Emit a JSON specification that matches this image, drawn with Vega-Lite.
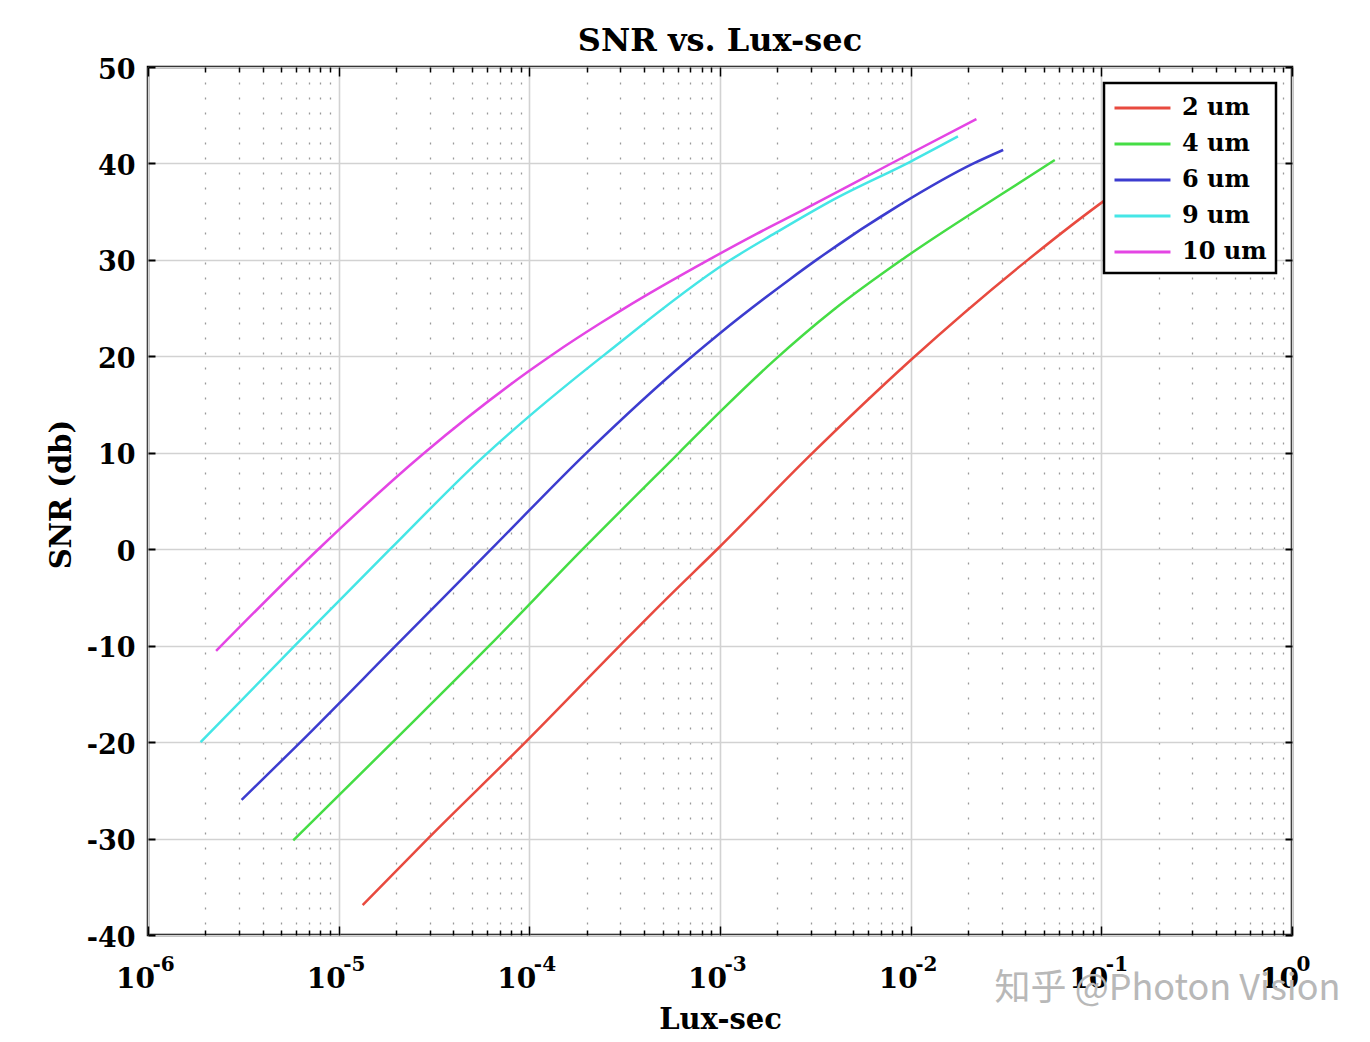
{
  "$schema": "https://vega.github.io/schema/vega-lite/v6.json",
  "width": 1144,
  "height": 868,
  "autosize": {"type": "none"},
  "padding": {"left": 148, "top": 67, "right": 78, "bottom": 107},
  "background": "white",
  "title": {
    "text": "SNR vs. Lux-sec",
    "font": "DejaVu Serif",
    "fontSize": 32,
    "fontWeight": "bold",
    "color": "black",
    "anchor": "middle",
    "frame": "group",
    "baseline": "alphabetic",
    "offset": 16,
    "dy": 43
  },
  "config": {
    "view": {"stroke": "black", "strokeWidth": 2.5},
    "axis": {
      "labelFont": "DejaVu Serif",
      "labelFontWeight": "bold",
      "labelColor": "black",
      "titleFont": "DejaVu Serif",
      "titleFontWeight": "bold",
      "titleColor": "black",
      "domain": false
    },
    "legend": {"strokeWidth": 2.5}
  },
  "data": {
    "values": [
      {"pixel": "2 um", "lux": 0.00001337, "snr": -36.9},
      {"pixel": "2 um", "lux": 0.00002938, "snr": -30},
      {"pixel": "2 um", "lux": 0.0000955, "snr": -20},
      {"pixel": "2 um", "lux": 0.0002985, "snr": -10},
      {"pixel": "2 um", "lux": 0.000514, "snr": -5.3},
      {"pixel": "2 um", "lux": 0.000979, "snr": 0.1},
      {"pixel": "2 um", "lux": 0.002958, "snr": 9.7},
      {"pixel": "2 um", "lux": 0.01012, "snr": 19.7},
      {"pixel": "2 um", "lux": 0.04055, "snr": 29.9},
      {"pixel": "2 um", "lux": 0.1064, "snr": 36.3},
      {"pixel": "2 um", "lux": 0.141, "snr": 38.0},

      {"pixel": "4 um", "lux": 0.00000578, "snr": -30.2},
      {"pixel": "4 um", "lux": 0.00001919, "snr": -20},
      {"pixel": "4 um", "lux": 0.00006166, "snr": -10},
      {"pixel": "4 um", "lux": 0.0001905, "snr": 0},
      {"pixel": "4 um", "lux": 0.0006095, "snr": 10},
      {"pixel": "4 um", "lux": 0.001, "snr": 14.24},
      {"pixel": "4 um", "lux": 0.001905, "snr": 19.5},
      {"pixel": "4 um", "lux": 0.00393, "snr": 24.8},
      {"pixel": "4 um", "lux": 0.00912, "snr": 30.1},
      {"pixel": "4 um", "lux": 0.02938, "snr": 36.7},
      {"pixel": "4 um", "lux": 0.057, "snr": 40.35},

      {"pixel": "6 um", "lux": 0.000003097, "snr": -26},
      {"pixel": "6 um", "lux": 0.00000631, "snr": -20},
      {"pixel": "6 um", "lux": 0.00001995, "snr": -10},
      {"pixel": "6 um", "lux": 0.0000631, "snr": 0},
      {"pixel": "6 um", "lux": 0.0001995, "snr": 10},
      {"pixel": "6 um", "lux": 0.000676, "snr": 19.6},
      {"pixel": "6 um", "lux": 0.001, "snr": 22.4},
      {"pixel": "6 um", "lux": 0.002328, "snr": 28.0},
      {"pixel": "6 um", "lux": 0.003206, "snr": 30},
      {"pixel": "6 um", "lux": 0.00877, "snr": 35.7},
      {"pixel": "6 um", "lux": 0.02138, "snr": 40.0},
      {"pixel": "6 um", "lux": 0.03055, "snr": 41.4},

      {"pixel": "9 um", "lux": 0.000001888, "snr": -20},
      {"pixel": "9 um", "lux": 0.00000589, "snr": -10},
      {"pixel": "9 um", "lux": 0.00001862, "snr": 0},
      {"pixel": "9 um", "lux": 0.00005754, "snr": 9.6},
      {"pixel": "9 um", "lux": 0.0001, "snr": 13.8},
      {"pixel": "9 um", "lux": 0.0001633, "snr": 17.3},
      {"pixel": "9 um", "lux": 0.0002455, "snr": 20.1},
      {"pixel": "9 um", "lux": 0.001096, "snr": 29.8},
      {"pixel": "9 um", "lux": 0.001995, "snr": 32.9},
      {"pixel": "9 um", "lux": 0.003981, "snr": 36.3},
      {"pixel": "9 um", "lux": 0.01, "snr": 40.2},
      {"pixel": "9 um", "lux": 0.0177, "snr": 42.8},

      {"pixel": "10 um", "lux": 0.000002275, "snr": -10.55},
      {"pixel": "10 um", "lux": 0.00000782, "snr": 0},
      {"pixel": "10 um", "lux": 0.0000278, "snr": 9.9},
      {"pixel": "10 um", "lux": 0.0001, "snr": 18.5},
      {"pixel": "10 um", "lux": 0.0001349, "snr": 20.3},
      {"pixel": "10 um", "lux": 0.0002344, "snr": 23.4},
      {"pixel": "10 um", "lux": 0.0003105, "snr": 24.9},
      {"pixel": "10 um", "lux": 0.000871, "snr": 30},
      {"pixel": "10 um", "lux": 0.001556, "snr": 32.7},
      {"pixel": "10 um", "lux": 0.002624, "snr": 35.0},
      {"pixel": "10 um", "lux": 0.00809, "snr": 40.1},
      {"pixel": "10 um", "lux": 0.02213, "snr": 44.6}
    ]
  },
  "layer": [
    {
      "mark": {"type": "line", "strokeWidth": 2.5, "interpolate": "monotone"},
      "encoding": {
        "x": {
          "field": "lux",
          "type": "quantitative",
          "scale": {"type": "log", "domain": [0.000001, 1], "nice": false},
          "axis": {
            "values": [0.000001, 0.000002, 0.000003, 0.000004, 0.000005, 0.000006, 0.000007, 0.000008, 0.000009,
                       0.00001, 0.00002, 0.00003, 0.00004, 0.00005, 0.00006, 0.00007, 0.00008, 0.00009,
                       0.0001, 0.0002, 0.0003, 0.0004, 0.0005, 0.0006, 0.0007, 0.0008, 0.0009,
                       0.001, 0.002, 0.003, 0.004, 0.005, 0.006, 0.007, 0.008, 0.009,
                       0.01, 0.02, 0.03, 0.04, 0.05, 0.06, 0.07, 0.08, 0.09,
                       0.1, 0.2, 0.3, 0.4, 0.5, 0.6, 0.7, 0.8, 0.9, 1],
            "labelExpr": "abs(log(datum.value)/LN10-round(log(datum.value)/LN10))<0.001 ? '10' : ''",
            "labelFontSize": 28,
            "labelOffset": -13,
            "labelBaseline": "alphabetic",
            "labelPadding": 52,
            "labelOverlap": false,
            "labelBound": false,
            "labelFlush": false,
            "ticks": false,
            "tickSize": 0,
            "grid": true,
            "gridColor": {"condition": {"test": "abs(log(datum.value)/LN10-round(log(datum.value)/LN10))<0.001", "value": "#d2d2d2"}, "value": "#9a9a9a"},
            "gridDash": {"condition": {"test": "abs(log(datum.value)/LN10-round(log(datum.value)/LN10))<0.001", "value": []}, "value": [2, 13]},
            "gridWidth": {"condition": {"test": "abs(log(datum.value)/LN10-round(log(datum.value)/LN10))<0.001", "value": 1.6}, "value": 1.3},
            "title": "Lux-sec",
            "titleFontSize": 29,
            "titleX": 572,
            "titleY": 93,
            "titleAlign": "center",
            "titleBaseline": "alphabetic"
          }
        },
        "y": {
          "field": "snr",
          "type": "quantitative",
          "scale": {"domain": [-40, 50], "nice": false, "zero": false},
          "axis": {
            "values": [-40, -30, -20, -10, 0, 10, 20, 30, 40, 50],
            "labelExpr": "'' + datum.value",
            "labelFontSize": 27,
            "labelPadding": 13,
            "labelOffset": 3,
            "ticks": false,
            "tickSize": 0,
            "grid": true,
            "gridColor": "#d2d2d2",
            "gridWidth": 1.6,
            "title": "SNR (db)",
            "titleFontSize": 29,
            "titleX": -78,
            "titleY": 427,
            "titleAlign": "center",
            "titleBaseline": "alphabetic"
          }
        },
        "color": {
          "field": "pixel",
          "type": "nominal",
          "scale": {
            "domain": ["2 um", "4 um", "6 um", "9 um", "10 um"],
            "range": ["#e84a3f", "#45dd45", "#3c3ccf", "#45e6e6", "#e445e4"]
          },
          "legend": {
            "title": null,
            "orient": "top-right",
            "offset": 16,
            "symbolType": "M-1,0H2.86",
            "symbolSize": 841,
            "symbolStrokeWidth": 3,
            "labelFont": "DejaVu Serif",
            "labelFontWeight": "bold",
            "labelFontSize": 24,
            "labelColor": "black",
            "labelOffset": 37,
            "padding": 9,
            "rowPadding": 8,
            "fillColor": "white",
            "strokeColor": "black"
          }
        }
      }
    },
    {
      "mark": {"type": "line", "strokeOpacity": 0},
      "encoding": {
        "x": {
          "field": "lux",
          "type": "quantitative",
          "scale": {"type": "log", "domain": [0.000001, 1], "nice": false},
          "axis": {
            "orient": "bottom",
            "values": [0.000001, 0.00001, 0.0001, 0.001, 0.01, 0.1, 1],
            "labelExpr": "'' + round(log(datum.value)/LN10)",
            "labelFontSize": 20,
            "labelAlign": "left",
            "labelOffset": 4,
            "labelBaseline": "alphabetic",
            "labelPadding": 35,
            "labelOverlap": false,
            "labelBound": false,
            "labelFlush": false,
            "ticks": false,
            "tickSize": 0,
            "grid": false,
            "title": null
          }
        },
        "y": {
          "field": "snr",
          "type": "quantitative",
          "scale": {"domain": [-40, 50], "nice": false, "zero": false},
          "axis": {
            "orient": "right",
            "values": [-40, -30, -20, -10, 0, 10, 20, 30, 40, 50],
            "labels": false,
            "ticks": true,
            "tickSize": -7,
            "tickColor": "black",
            "tickWidth": 2,
            "grid": false,
            "title": null
          }
        }
      }
    },
    {
      "mark": {"type": "line", "strokeOpacity": 0},
      "encoding": {
        "x": {
          "field": "lux",
          "type": "quantitative",
          "scale": {"type": "log", "domain": [0.000001, 1], "nice": false},
          "axis": {
            "orient": "top",
            "values": [0.000001, 0.000002, 0.000003, 0.000004, 0.000005, 0.000006, 0.000007, 0.000008, 0.000009,
                       0.00001, 0.00002, 0.00003, 0.00004, 0.00005, 0.00006, 0.00007, 0.00008, 0.00009,
                       0.0001, 0.0002, 0.0003, 0.0004, 0.0005, 0.0006, 0.0007, 0.0008, 0.0009,
                       0.001, 0.002, 0.003, 0.004, 0.005, 0.006, 0.007, 0.008, 0.009,
                       0.01, 0.02, 0.03, 0.04, 0.05, 0.06, 0.07, 0.08, 0.09,
                       0.1, 0.2, 0.3, 0.4, 0.5, 0.6, 0.7, 0.8, 0.9, 1],
            "labels": false,
            "ticks": true,
            "tickSize": {"condition": {"test": "abs(log(datum.value)/LN10-round(log(datum.value)/LN10))<0.001", "value": -9}, "value": -5},
            "tickColor": "black",
            "tickWidth": 1.5,
            "grid": false,
            "title": null
          }
        },
        "y": {
          "field": "snr",
          "type": "quantitative",
          "scale": {"domain": [-40, 50], "nice": false, "zero": false},
          "axis": null
        }
      }
    },
    {
      "mark": {"type": "line", "strokeOpacity": 0},
      "encoding": {
        "x": {
          "field": "lux",
          "type": "quantitative",
          "scale": {"type": "log", "domain": [0.000001, 1], "nice": false},
          "axis": {
            "orient": "bottom",
            "values": [0.000001, 0.000002, 0.000003, 0.000004, 0.000005, 0.000006, 0.000007, 0.000008, 0.000009,
                       0.00001, 0.00002, 0.00003, 0.00004, 0.00005, 0.00006, 0.00007, 0.00008, 0.00009,
                       0.0001, 0.0002, 0.0003, 0.0004, 0.0005, 0.0006, 0.0007, 0.0008, 0.0009,
                       0.001, 0.002, 0.003, 0.004, 0.005, 0.006, 0.007, 0.008, 0.009,
                       0.01, 0.02, 0.03, 0.04, 0.05, 0.06, 0.07, 0.08, 0.09,
                       0.1, 0.2, 0.3, 0.4, 0.5, 0.6, 0.7, 0.8, 0.9, 1],
            "labels": false,
            "ticks": true,
            "tickSize": {"condition": {"test": "abs(log(datum.value)/LN10-round(log(datum.value)/LN10))<0.001", "value": -9}, "value": -5},
            "tickColor": "black",
            "tickWidth": 1.5,
            "grid": false,
            "title": "知乎 @Photon Vision",
            "titleFont": "Noto Sans CJK SC",
            "titleFontWeight": "normal",
            "titleFontSize": 36,
            "titleColor": "#b8b8b8",
            "titleX": 1019,
            "titleY": 53,
            "titleAlign": "center",
            "titleBaseline": "middle"
          }
        },
        "y": {
          "field": "snr",
          "type": "quantitative",
          "scale": {"domain": [-40, 50], "nice": false, "zero": false},
          "axis": {
            "orient": "left",
            "values": [-40, -30, -20, -10, 0, 10, 20, 30, 40, 50],
            "labels": false,
            "ticks": true,
            "tickSize": -7,
            "tickColor": "black",
            "tickWidth": 2,
            "grid": false,
            "title": null
          }
        }
      }
    }
  ],
  "resolve": {"axis": {"x": "independent", "y": "independent"}}
}
